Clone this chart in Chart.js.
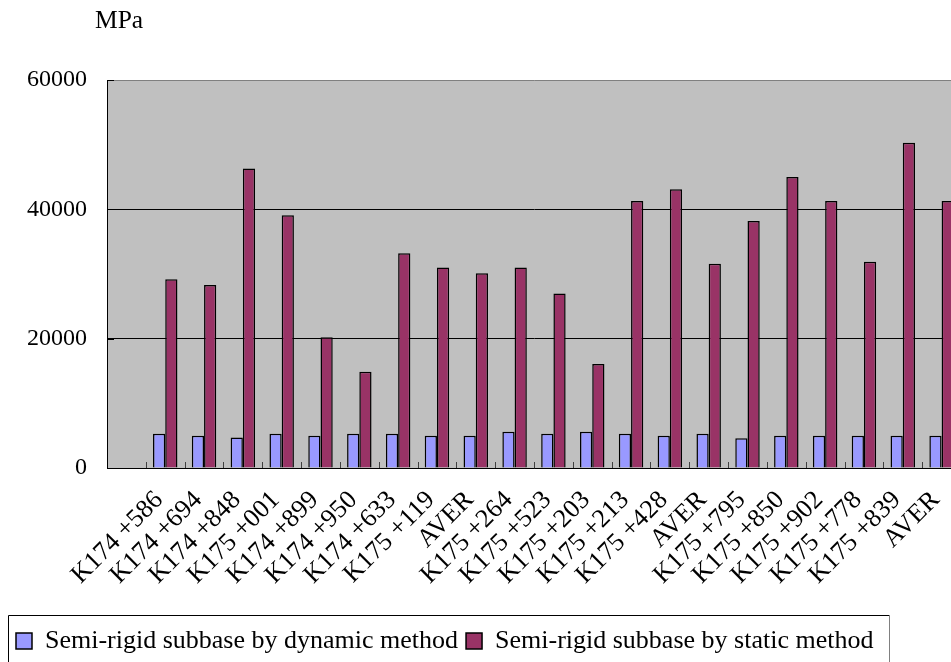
<!DOCTYPE html>
<html>
<head>
<meta charset="utf-8">
<script src="https://cdn.jsdelivr.net/npm/chart.js@4/dist/chart.umd.min.js"></script>
<style>
  html, body { margin: 0; padding: 0; background: #fff; overflow: hidden; width: 951px; height: 662px; }
  canvas { display: block; }
</style>
</head>
<body>
<canvas id="modulus" width="961" height="664"></canvas>
<script>
// Stake stations (the leading empty slot leaves a blank column next to the axis)
const stations = ['', 'K174 +586', 'K174 +694', 'K174 +848', 'K175 +001', 'K174 +899', 'K174 +950',
  'K174 +633', 'K175 +119', 'AVER', 'K175 +264', 'K175 +523', 'K175 +203', 'K175 +213',
  'K175 +428', 'AVER', 'K175 +795', 'K175 +850', 'K175 +902', 'K175 +778', 'K175 +839', 'AVER'];

// Resilient modulus, MPa
const dynamicMethod = [null, 5300, 5000, 4700, 5300, 5000, 5300, 5300, 5000, 5000, 5600,
  5300, 5600, 5300, 5000, 5300, 4600, 5000, 5000, 5000, 5000, 5000];
const staticMethod = [null, 29200, 28300, 46300, 39100, 20200, 14900, 33200, 31000, 30100, 31000,
  27000, 16100, 41300, 43100, 31600, 38200, 45000, 41300, 31900, 50300, 41300];

const yTicks = [0, 20000, 40000, 60000];
const seriesNames = ['Semi-rigid subbase by dynamic method', 'Semi-rigid subbase by static method'];
const unitLabel = 'MPa';

const SERIF = '"Liberation Serif", "Times New Roman", serif';
Chart.defaults.font.family = SERIF;
Chart.defaults.color = '#000';

const frame = {
  id: 'frame',
  beforeDraw(chart) {
    const { ctx, chartArea: a } = chart;
    ctx.save();
    ctx.fillStyle = '#c0c0c0';
    ctx.fillRect(a.left, a.top, a.right - a.left, a.bottom - a.top);
    ctx.restore();
  },
  afterDatasetsDraw(chart) {
    const { ctx, chartArea: a, scales: { x, y } } = chart;
    ctx.save();
    // small inward tick marks on the category axis, at the column boundaries
    ctx.strokeStyle = '#404040';
    ctx.lineWidth = 1;
    for (let i = 1; i < stations.length; i++) {
      const px = Math.round((x.getPixelForValue(i - 1) + x.getPixelForValue(i)) / 2) + 0.5;
      ctx.beginPath();
      ctx.moveTo(px, a.bottom);
      ctx.lineTo(px, a.bottom - 6);
      ctx.stroke();
    }
    // inward tick marks on the value axis
    ctx.strokeStyle = '#000';
    yTicks.forEach(v => {
      const py = Math.round(y.getPixelForValue(v)) + 0.5;
      ctx.beginPath();
      ctx.moveTo(a.left, py);
      ctx.lineTo(a.left + 7, py);
      ctx.stroke();
    });
    ctx.restore();
  },
  afterDraw(chart) {
    const { ctx, chartArea: a, legend } = chart;
    ctx.save();
    // unit caption above the value axis
    ctx.font = '25.5px ' + SERIF;
    ctx.fillStyle = '#000';
    ctx.textBaseline = 'middle';
    ctx.textAlign = 'left';
    ctx.fillText(unitLabel, a.left - 12, 21);
    // frame around the legend
    const boxes = legend.legendHitBoxes;
    if (boxes && boxes.length) {
      const l = Math.round(boxes[0].left - 8) + 0.5;
      const last = boxes[boxes.length - 1];
      const r = Math.round(last.left + last.width + 16) + 0.5;
      const t = Math.round(boxes[0].top - 13) + 0.5;
      const b = chart.height + 5;
      ctx.lineWidth = 1;
      ctx.strokeStyle = '#000';
      ctx.beginPath();
      ctx.moveTo(l, b); ctx.lineTo(l, t); ctx.lineTo(r, t);
      ctx.stroke();
      ctx.strokeStyle = '#808080';
      ctx.beginPath();
      ctx.moveTo(r, t); ctx.lineTo(r, b);
      ctx.stroke();
    }
    ctx.restore();
  }
};

new Chart(document.getElementById('modulus'), {
  type: 'bar',
  data: {
    labels: stations,
    datasets: [
      { label: seriesNames[0], data: dynamicMethod, backgroundColor: '#9999ff', borderColor: '#000', borderWidth: 1.5 },
      { label: seriesNames[1], data: staticMethod, backgroundColor: '#993366', borderColor: '#000', borderWidth: 1.5 }
    ]
  },
  options: {
    responsive: false,
    animation: false,
    devicePixelRatio: 1,
    layout: { padding: { left: 8, top: 80, right: 0, bottom: 0 } },
    datasets: { bar: { categoryPercentage: 0.63, barPercentage: 1.0 } },
    plugins: {
      tooltip: { enabled: false },
      title: { display: false },
      legend: {
        position: 'bottom',
        align: 'start',
        labels: {
          boxWidth: 16,
          boxHeight: 16,
          padding: 8,
          color: '#000',
          font: { size: 26, family: SERIF }
        }
      }
    },
    scales: {
      x: {
        grid: { display: false, drawTicks: false },
        border: { display: true, color: '#000', width: 1 },
        ticks: {
          autoSkip: false,
          minRotation: 45,
          maxRotation: 45,
          padding: 17,
          labelOffset: -6,
          color: '#000',
          font: { size: 26, family: SERIF }
        },
        afterFit(scale) {
          scale.height = 152;
          scale.paddingLeft = 0;
          scale.paddingRight = 0;
        }
      },
      y: {
        min: 0,
        max: 60000,
        afterBuildTicks(scale) { scale.ticks = yTicks.map(v => ({ value: v })); },
        grid: {
          drawTicks: false,
          lineWidth: 1,
          color: c => (c.tick && c.tick.value === 60000 ? '#808080' : '#000')
        },
        border: { display: true, color: '#000', width: 1 },
        ticks: {
          padding: 20,
          color: '#000',
          font: { size: 24, family: SERIF },
          callback: v => String(v)
        },
        afterFit(scale) { scale.width = 99; }
      }
    }
  },
  plugins: [frame]
});
</script>
</body>
</html>
